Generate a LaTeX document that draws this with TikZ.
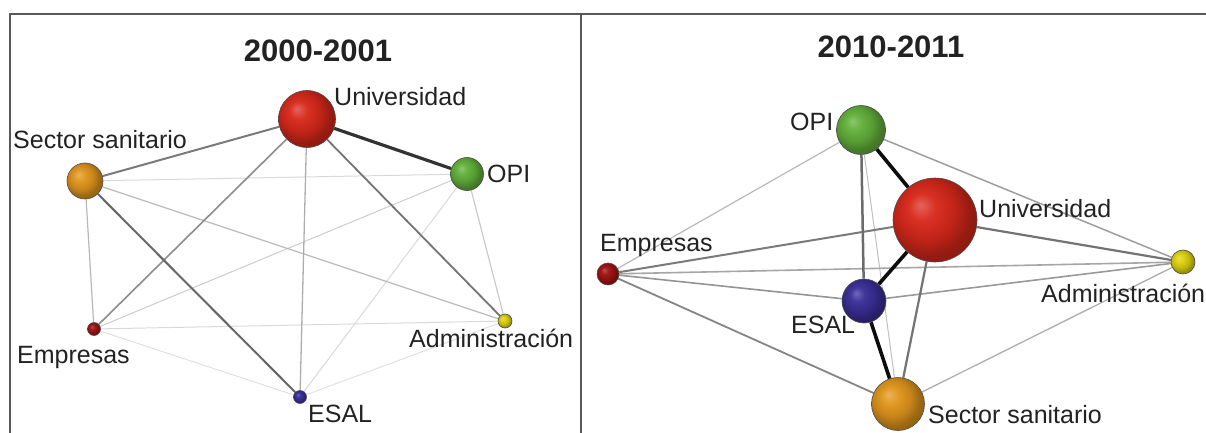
\documentclass[tikz,border=0pt]{standalone}
\usepackage{fontspec}
\setmainfont{Liberation Sans}
\usetikzlibrary{backgrounds}
\makeatletter
\pgfdeclareradialshading[tikz@ball]{softball}{\pgfqpoint{-9bp}{9bp}}{%
  color(0bp)=(tikz@ball!72!white);
  color(8bp)=(tikz@ball!96!white);
  color(18bp)=(tikz@ball!88!black);
  color(25bp)=(tikz@ball!70!black);
  color(50bp)=(tikz@ball!45!black)}
\makeatother
\definecolor{cUni}{HTML}{D8281A}
\definecolor{cOPI}{HTML}{62B03A}
\definecolor{cSec}{HTML}{E0951C}
\definecolor{cEmp}{HTML}{A01212}
\definecolor{cAdm}{HTML}{DDD20E}
\definecolor{cESAL}{HTML}{3A2E98}
\definecolor{txt}{HTML}{222222}
\tikzset{
  ball/.style={circle, inner sep=0pt, ball color=#1, shading=softball, draw=black!70, line width=0.6pt},
  lbl/.style={anchor=base west, inner sep=0pt, text=txt, font=\fontsize{25}{27}\selectfont},
  ttl/.style={anchor=base, inner sep=0pt, text=txt, font=\fontsize{31}{33}\selectfont\bfseries},
  frame/.style={draw=black!65, line width=1.4pt},
  e/.style 2 args={draw=black!#1, line width=#2pt},
}
\begin{document}
\begin{tikzpicture}[x=1pt,y=-1pt]
\useasboundingbox (0,0) rectangle (1206,433);
\draw[frame] (10,433) -- (10,14) -- (1206,14);
\draw[frame] (581,14) -- (581,433);

% ---------- left panel ----------
\node[ttl] (t1) at (318,62) {2000-2001};
\node[ball=cUni, minimum size=57pt] (U1) at (307,119) {};
\node[ball=cSec, minimum size=36pt] (S1) at (85,181) {};
\node[ball=cOPI, minimum size=33pt] (O1) at (467,174) {};
\node[ball=cEmp, minimum size=13pt] (E1) at (94,329) {};
\node[ball=cAdm, minimum size=14pt] (A1) at (505,321) {};
\node[ball=cESAL, minimum size=13pt] (L1) at (300,397) {};

\node[lbl] (lU1) at (334,106) {Universidad};
\node[lbl] (lS1) at (13,148) {Sector sanitario};
\node[lbl] (lO1) at (487,182) {OPI};
\node[lbl] (lE1) at (17,363) {Empresas};
\node[lbl] (lA1) at (409,347) {Administración};
\node[lbl] (lL1) at (308,422) {ESAL};

\begin{scope}[on background layer]
\draw[e={12}{1}] (E1) -- (L1);
\draw[e={12}{1}] (L1) -- (A1);
\draw[e={15}{1}] (E1) -- (A1);
\draw[e={15}{1}] (S1) -- (O1);
\draw[e={15}{1}] (O1) -- (L1);
\draw[e={20}{1}] (O1) -- (E1);
\draw[e={22}{1.1}] (O1) -- (A1);
\draw[e={28}{1.2}] (S1) -- (E1);
\draw[e={28}{1.2}] (S1) -- (A1);
\draw[e={32}{1.3}] (U1) -- (L1);
\draw[e={45}{1.6}] (U1) -- (E1);
\draw[e={55}{1.8}] (U1) -- (A1);
\draw[e={52}{2}] (U1) -- (S1);
\draw[e={60}{2}] (S1) -- (L1);
\draw[e={80}{3.2}] (U1) -- (O1);
\end{scope}

% ---------- right panel ----------
\node[ttl] (t2) at (891,58) {2010-2011};
\node[ball=cOPI, minimum size=49pt] (O2) at (861,130) {};
\node[ball=cUni, minimum size=84pt] (U2) at (935,220) {};
\node[ball=cEmp, minimum size=22pt] (E2) at (608,274) {};
\node[ball=cAdm, minimum size=24pt] (A2) at (1183,262) {};
\node[ball=cESAL, minimum size=44pt] (L2) at (864,301) {};
\node[ball=cSec, minimum size=53pt] (S2) at (898,404) {};

\node[lbl] (lO2) at (790,131) {OPI};
\node[lbl] (lU2) at (979,217) {Universidad};
\node[lbl] (lE2) at (600,251) {Empresas};
\node[lbl] (lA2) at (1041,302) {Administración};
\node[lbl] (lL2) at (791,333) {ESAL};
\node[lbl] (lS2) at (928,423) {Sector sanitario};

\begin{scope}[on background layer]
\draw[e={25}{1}] (O2) -- (S2);
\draw[e={28}{1.2}] (O2) -- (E2);
\draw[e={32}{1.3}] (S2) -- (A2);
\draw[e={38}{1.5}] (O2) -- (A2);
\draw[e={35}{1.6}] (E2) -- (A2);
\draw[e={40}{1.6}] (L2) -- (A2);
\draw[e={42}{1.6}] (E2) -- (L2);
\draw[e={48}{1.8}] (E2) -- (S2);
\draw[e={52}{2}] (U2) -- (E2);
\draw[e={55}{2.2}] (U2) -- (A2);
\draw[e={55}{2.2}] (U2) -- (S2);
\draw[e={58}{2.5}] (O2) -- (L2);
\draw[e={95}{3.6}] (O2) -- (U2);
\draw[e={95}{3.6}] (U2) -- (L2);
\draw[e={95}{3.6}] (L2) -- (S2);
\end{scope}
\end{tikzpicture}
\end{document}
